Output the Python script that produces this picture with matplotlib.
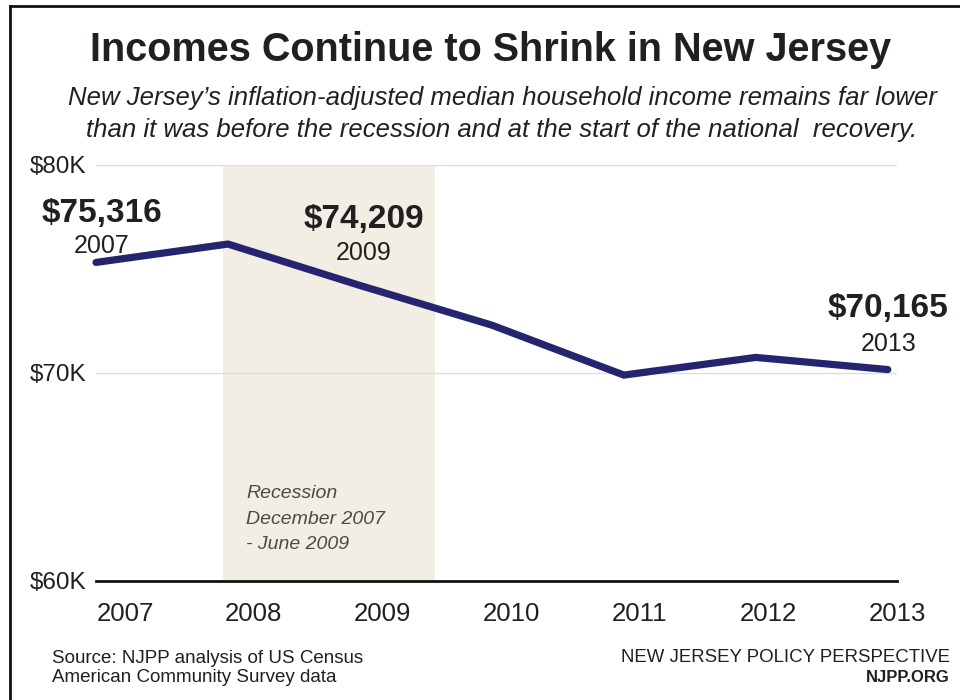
import numpy as np
import matplotlib
matplotlib.use("Agg")
import matplotlib.pyplot as plt
from matplotlib.lines import Line2D

plt.rcParams['font.family'] = ['Liberation Sans', 'DejaVu Sans']

# Median household income, New Jersey (inflation-adjusted dollars)
years = [2007, 2008, 2009, 2010, 2011, 2012, 2013]
income = [75316, 76200, 74209, 72300, 69900, 70750, 70165]
year_labels = ["2007", "2008", "2009", "2010", "2011", "2012", "2013"]
y_ticks = [60000, 70000, 80000]
y_tick_labels = ["$60K", "$70K", "$80K"]
recession_start = 2007.965
recession_end = 2009.57
callout_years = [2007, 2009, 2013]

LINE = "#25246e"
SHADE = "#f2eee4"
TEXT = "#231f20"

fig = plt.figure(figsize=(9.6, 7.0), dpi=100)
W, H = 960, 700
ax = fig.add_axes([96 / W, (H - 581) / H, (897 - 96) / W, (581 - 165) / H])

ax.set_xlim(2007, 2013)
ax.set_ylim(60000, 80000)

# recession band
ax.axvspan(recession_start, recession_end, color=SHADE, lw=0, zorder=0)

# gridlines and baseline
for v in y_ticks[1:]:
    ax.axhline(v, color="#dddddd", lw=1.0, zorder=1)
ax.axhline(y_ticks[0], color="#111111", lw=2.0, zorder=2, clip_on=False)

ax.plot(years, income, color=LINE, lw=5.2, solid_capstyle="round",
        solid_joinstyle="miter", zorder=3, clip_on=False)

for s in ax.spines.values():
    s.set_visible(False)

ax.set_yticks(y_ticks)
ax.set_yticklabels(y_tick_labels, fontsize=17.5, color=TEXT)
ax.tick_params(axis="y", length=0, pad=7)

tick_pos = np.linspace(2007.22, 2013.07, len(year_labels))
ax.set_xticks(tick_pos)
ax.set_xticklabels(year_labels, fontsize=18.5, color=TEXT)
ax.tick_params(axis="x", length=0, pad=15)

# value callouts: (x shift, value-label shift, year-label shift)
offsets = {2007: (0.045, 2360, 810), 2009: (0.03, 3150, 1560), 2013: (0.005, 2950, 1250)}
for yr in callout_years:
    val = income[years.index(yr)]
    dx, dv, dy = offsets[yr]
    ax.text(yr + dx, val + dv, f"${val:,}", ha="center", va="center",
            fontsize=24, fontweight="bold", color=TEXT, clip_on=False)
    ax.text(yr + dx, val + dy, str(yr), ha="center", va="center",
            fontsize=18, color=TEXT, clip_on=False)

ax.text(2008.14, 62980,
        "Recession\nDecember 2007\n- June 2009", ha="left", va="center",
        fontsize=14, style="italic", color="#4a4a4a", linespacing=1.65)

# title block
fig.text(491 / W, 1 - 50 / H, "Incomes Continue to Shrink in New Jersey",
         ha="center", va="center", fontsize=28.5, fontweight="bold", color=TEXT)
fig.text(502 / W, 1 - 114 / H,
         "New Jersey\u2019s inflation-adjusted median household income remains far lower\n"
         "than it was before the recession and at the start of the national  recovery.",
         ha="center", va="center", fontsize=18.5, style="italic", color=TEXT,
         linespacing=1.45)

# footer
fig.text(52 / W, 1 - 668 / H,
         "Source: NJPP analysis of US Census\nAmerican Community Survey data",
         ha="left", va="center", fontsize=13.5, color=TEXT, linespacing=1.1)
fig.text(950 / W, 1 - 658 / H, "NEW JERSEY POLICY PERSPECTIVE",
         ha="right", va="center", fontsize=13.4, color=TEXT)
fig.text(950 / W, 1 - 678 / H, "NJPP.ORG",
         ha="right", va="center", fontsize=12, fontweight="bold", color=TEXT)

# frame along the top and left edges
fig.add_artist(Line2D([10 / W, 10 / W], [0, 1 - 6 / H], transform=fig.transFigure,
                      color="#111111", lw=2.0))
fig.add_artist(Line2D([10 / W, 1], [1 - 6 / H, 1 - 6 / H], transform=fig.transFigure,
                      color="#111111", lw=2.0))

fig.savefig("out.png", dpi=100, facecolor="white")
